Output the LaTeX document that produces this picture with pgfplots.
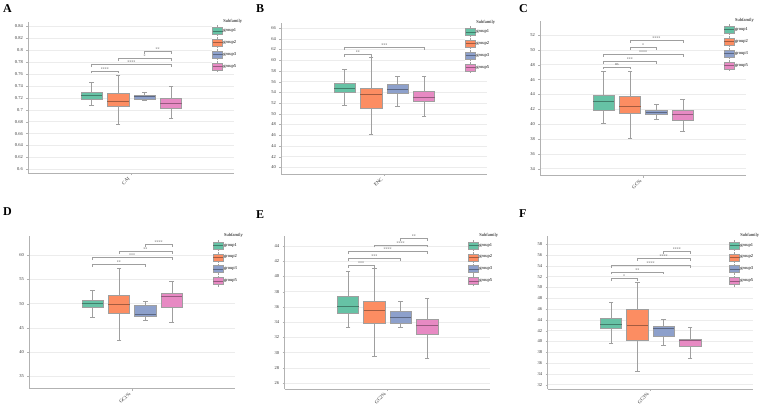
\documentclass[border=0pt]{standalone}
\usepackage{pgfplots}
\pgfplotsset{compat=1.18}
\usepackage{fontspec}
\setmainfont{Liberation Serif}
\definecolor{cA}{HTML}{66C2A5}
\definecolor{cB}{HTML}{FC8D62}
\definecolor{cC}{HTML}{8DA0CB}
\definecolor{cD}{HTML}{E78AC3}
\newcommand{\tfont}{\fontsize{4.5}{5}\selectfont}
% #1 pos, #2 left, #3 right, #4 colour, #5 lw, #6 lq, #7 med, #8 uq, #9 uw
\newcommand{\gbox}[9]{%
  \addplot[forget plot, draw=gray!75, line width=0.4pt] coordinates {(#1,#5) (#1,#6)};
  \addplot[forget plot, draw=gray!75, line width=0.4pt] coordinates {(#1,#8) (#1,#9)};
  \addplot[forget plot, only marks, mark=-, mark size=2.4pt, mark options={draw=gray!75, line width=0.4pt}] coordinates {(#1,#5) (#1,#9)};
  \addplot[forget plot, draw=gray!75, fill=#4, line width=0.4pt] coordinates {(#2,#6) (#3,#6) (#3,#8) (#2,#8)} --cycle;
  \addplot[forget plot, draw=#4!65!black, line width=0.5pt] coordinates {(#2,#7) (#3,#7)};}
\newcommand{\sig}[4]{\draw[gray!75, line width=0.4pt] (axis cs:#1,#3) ++(0pt,-2.5pt) -- (axis cs:#1,#3) -- (axis cs:#2,#3) -- ++(0pt,-2.5pt);
  \node[font=\fontsize{4}{4}\selectfont, text=black!70, above, inner sep=0.6pt] at (axis cs:{(#1+#2)/2},#3) {#4};}
\pgfplotsset{
  gleg/.style={legend image code/.code={
    \draw[gray!75, line width=0.3pt] (5pt,-5.5pt) -- (5pt,5.5pt);
    \draw[draw=gray!75, fill=#1, line width=0.3pt] (0pt,-3.5pt) rectangle (10pt,3.5pt);
    \draw[#1!65!black, line width=0.4pt] (0pt,0pt) -- (10pt,0pt);}},
  panel/.style={
    scale only axis, anchor=south west, clip=false,
    xmin=-3.9, xmax=3.9, xtick={0},
    axis lines*=left, axis line style={gray!60, line width=0.6pt},
    tick style={gray!60}, tick align=outside, major tick length=2pt,
    ymajorgrids, grid style={gray!15, line width=0.5pt},
    tick label style={font=\tfont, text=black!80},
    /pgf/number format/assume math mode=true,
    xticklabel style={rotate=45, anchor=east, font=\fontsize{5}{5}\selectfont},
    legend style={at={(0.89,1.025)}, anchor=north west, draw=none, fill=white,
      font=\tfont, inner sep=0.5pt, row sep=0.6pt,
      nodes={inner sep=0.6pt}, /tikz/every even column/.append style={column sep=1pt}},
    legend cell align=left,
  }
}
\newcommand{\legs}{%
  \addlegendimage{empty legend}\addlegendentry{Subfamily}
  \addlegendimage{gleg=cA}\addlegendentry{group1}
  \addlegendimage{gleg=cB}\addlegendentry{group2}
  \addlegendimage{gleg=cC}\addlegendentry{group3}
  \addlegendimage{gleg=cD}\addlegendentry{group5}}
\begin{document}
\begin{tikzpicture}
\useasboundingbox (0pt,0pt) rectangle (759pt,406pt);
% A
\begin{axis}[panel, at={(28.3pt,232.7pt)}, width=206pt, height=151.6pt,
  ymin=0.5933, ymax=0.848, ytick={0.6,0.62,0.64,0.66,0.68,0.7,0.72,0.74,0.76,0.78,0.8,0.82,0.84},
  yticklabels={0.6,0.62,0.64,0.66,0.68,0.7,0.72,0.74,0.76,0.78,0.8,0.82,0.84},
  xticklabels={CAI}]
\legs
\gbox{-1.5}{-1.905}{-1.095}{cA}{0.7076}{0.7178}{0.7245}{0.7296}{0.746}
\gbox{-0.5}{-0.905}{-0.095}{cB}{0.6757}{0.706}{0.715}{0.7273}{0.758}
\gbox{0.5}{0.095}{0.905}{cC}{0.7166}{0.7183}{0.7222}{0.725}{0.729}
\gbox{1.5}{1.095}{1.905}{cD}{0.6858}{0.702}{0.711}{0.7189}{0.7396}
\sig{-1.5}{-0.5}{0.7654}{****}
\sig{-1.5}{1.5}{0.776}{****}
\sig{-0.5}{1.5}{0.786}{*}
\sig{0.5}{1.5}{0.798}{**}
\end{axis}
% B
\begin{axis}[panel, at={(281.3pt,232pt)}, width=206pt, height=151.3pt,
  ymin=38.76, ymax=67.0, ytick={40,42,...,66}, xticklabels={ENC}]
\legs
\gbox{-1.5}{-1.905}{-1.095}{cA}{51.57}{54.0}{54.81}{55.74}{58.29}
\gbox{-0.5}{-0.905}{-0.095}{cB}{46.16}{51.01}{53.62}{54.74}{60.53}
\gbox{0.5}{0.095}{0.905}{cC}{51.38}{53.87}{54.56}{55.49}{57.05}
\gbox{1.5}{1.095}{1.905}{cD}{49.52}{52.26}{53.13}{54.25}{57.05}
\sig{-1.5}{-0.5}{61.15}{**}
\sig{-1.5}{1.5}{62.40}{***}
\end{axis}
% C
\begin{axis}[panel, at={(540.3pt,230.3pt)}, width=205.7pt, height=155pt,
  ymin=33.06, ymax=53.93, ytick={34,36,...,52}, xticklabels={GC\%}]
\legs
\gbox{-1.5}{-1.905}{-1.095}{cA}{40.10}{41.90}{43.11}{43.96}{47.15}
\gbox{-0.5}{-0.905}{-0.095}{cB}{38.13}{41.45}{42.39}{43.74}{47.15}
\gbox{0.5}{0.095}{0.905}{cC}{40.69}{41.32}{41.59}{41.85}{42.62}
\gbox{1.5}{1.095}{1.905}{cD}{39.03}{40.55}{41.27}{41.85}{43.34}
\sig{-1.5}{-0.5}{47.73}{ns}
\sig{-1.5}{0.5}{48.50}{***}
\sig{-1.5}{1.5}{49.40}{****}
\sig{-0.5}{0.5}{50.34}{*}
\sig{-0.5}{1.5}{51.28}{****}
\end{axis}
% D
\begin{axis}[panel, at={(29.3pt,17.3pt)}, width=205.7pt, height=152.4pt,
  ymin=32.45, ymax=63.93, ytick={35,40,...,60}, xticklabels={GC1\%}]
\legs
\gbox{-1.5}{-1.905}{-1.095}{cA}{47.19}{49.26}{50.08}{50.63}{52.77}
\gbox{-0.5}{-0.905}{-0.095}{cB}{42.44}{48.02}{49.88}{51.74}{57.38}
\gbox{0.5}{0.095}{0.905}{cC}{46.64}{47.33}{47.88}{49.67}{50.50}
\gbox{1.5}{1.095}{1.905}{cD}{46.23}{49.26}{51.60}{52.22}{54.63}
\sig{-1.5}{0.5}{58.14}{**}
\sig{-1.5}{1.5}{59.52}{***}
\sig{-0.5}{1.5}{60.83}{**}
\sig{0.5}{1.5}{62.20}{****}
\end{axis}
% E
\begin{axis}[panel, at={(284.7pt,17pt)}, width=205.6pt, height=152.7pt,
  ymin=25.21, ymax=45.27, ytick={26,28,...,44}, xticklabels={GC2\%}]
\legs
\gbox{-1.5}{-1.905}{-1.095}{cA}{33.31}{35.20}{36.12}{37.39}{40.67}
\gbox{-0.5}{-0.905}{-0.095}{cB}{29.50}{33.84}{35.55}{36.69}{41.11}
\gbox{0.5}{0.095}{0.905}{cC}{33.31}{33.84}{34.63}{35.37}{36.73}
\gbox{1.5}{1.095}{1.905}{cD}{29.20}{32.35}{33.58}{34.37}{37.08}
\sig{-1.5}{-0.5}{41.46}{***}
\sig{-1.5}{0.5}{42.38}{***}
\sig{-1.5}{1.5}{43.26}{****}
\sig{-0.5}{1.5}{44.13}{****}
\sig{0.5}{1.5}{45.01}{**}
\end{axis}
% F
\begin{axis}[panel, at={(547.7pt,17pt)}, width=205.6pt, height=152.7pt,
  ymin=31.20, ymax=59.49, ytick={32,34,...,58}, xticklabels={GC3\%},
  legend style={at={(0.88,1.025)}}]
\legs
\gbox{-1.5}{-1.905}{-1.095}{cA}{39.66}{42.38}{43.24}{44.35}{47.26}
\gbox{-0.5}{-0.905}{-0.095}{cB}{34.47}{40.15}{42.93}{45.96}{51.02}
\gbox{0.5}{0.095}{0.905}{cC}{39.29}{40.89}{42.50}{42.75}{44.04}
\gbox{1.5}{1.095}{1.905}{cD}{36.88}{39.04}{40.15}{40.46}{42.62}
\sig{-1.5}{-0.5}{51.64}{*}
\sig{-1.5}{0.5}{52.88}{**}
\sig{-1.5}{1.5}{54.11}{****}
\sig{-0.5}{1.5}{55.41}{****}
\sig{0.5}{1.5}{56.71}{****}
\end{axis}
% panel letters
\node[anchor=north west, inner sep=0pt, font=\fontsize{12}{12}\selectfont\bfseries] at (3pt,402pt) {A};
\node[anchor=north west, inner sep=0pt, font=\fontsize{12}{12}\selectfont\bfseries] at (256pt,402pt) {B};
\node[anchor=north west, inner sep=0pt, font=\fontsize{12}{12}\selectfont\bfseries] at (519pt,402pt) {C};
\node[anchor=north west, inner sep=0pt, font=\fontsize{12}{12}\selectfont\bfseries] at (3pt,199pt) {D};
\node[anchor=north west, inner sep=0pt, font=\fontsize{12}{12}\selectfont\bfseries] at (256pt,196pt) {E};
\node[anchor=north west, inner sep=0pt, font=\fontsize{12}{12}\selectfont\bfseries] at (519pt,197pt) {F};
\end{tikzpicture}
\end{document}
